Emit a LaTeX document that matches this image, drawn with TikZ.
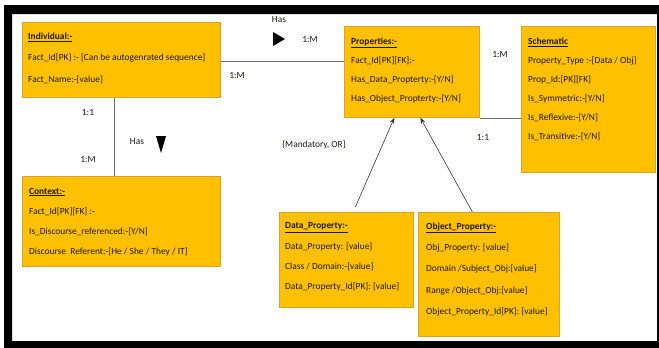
\documentclass[tikz,border=0pt]{standalone}
\usepackage{fontspec}
\setmainfont{Carlito}
\usetikzlibrary{arrows.meta}
\definecolor{boxfill}{HTML}{FFC000}
\definecolor{boxline}{HTML}{D4A52A}
\definecolor{txtc}{HTML}{1E1A10}
\definecolor{linec}{HTML}{6E6E6E}
\newcommand{\hdr}[1]{\textbf{\underline{#1}}}
\tikzset{
  ent/.style={draw=boxline, fill=boxfill, line width=0.7pt, anchor=north west, inner sep=0pt},
  txt/.style={anchor=north west, align=left, inner sep=0pt, text=txtc, font=\fontsize{9.4}{#1}\selectfont},
  lbl/.style={inner sep=0pt, text=txtc, font=\fontsize{9.4}{11}\selectfont},
  conn/.style={draw=linec, line width=0.6pt},
  arr/.style={draw=black!80, line width=0.6pt, -{Stealth[length=6pt,width=4.5pt]}},
  tri/.style={fill=black, draw=none},
  border/.style={fill=black, draw=none}
}
\begin{document}
\begin{tikzpicture}[x=1pt,y=-1pt]
\fill[white] (0,0) rectangle (659,348);
\path[border] (4,5) -- (659,5) -- (659,348) -- (4,348) -- cycle
  (12,14) -- (12,341) -- (657,341) -- (657,14) -- cycle;
\useasboundingbox (0,0) rectangle (659,348);

% boxes
\node[ent, minimum width=198pt, minimum height=75pt] (ind) at (22,22) {};
\node[ent, minimum width=135pt, minimum height=91pt] (prop) at (344,26) {};
\node[ent, minimum width=134pt, minimum height=146pt] (sch) at (521,26) {};
\node[ent, minimum width=198pt, minimum height=90pt] (ctx) at (22,176) {};
\node[ent, minimum width=134pt, minimum height=95pt] (dp) at (279,212) {};
\node[ent, minimum width=141pt, minimum height=124pt] (op) at (418,212) {};

% texts
\node[txt=21.5] (indt) at ([shift={(6,10.7)}]ind.north west)
 {\hdr{Individual:-}\\Fact\_Id[PK] :- [Can be autogenrated sequence]\\Fact\_Name:-[value]};
\node[txt=19] (propt) at ([shift={(7,11.7)}]prop.north west)
 {\hdr{Properties:-}\\Fact\_Id[PK][FK]:-\\Has\_Data\_Propterty:-[Y/N]\\Has\_Object\_Propterty:-[Y/N]};
\node[txt=19] (scht) at ([shift={(7,11.7)}]sch.north west)
 {\hdr{Schematic}\\Property\_Type :-[Data / Obj]\\Prop\_Id:[PK][FK]\\Is\_Symmetric:-[Y/N]\\Is\_Reflexive:-[Y/N]\\Is\_Transitive:-[Y/N]};
\node[txt=20.3] (ctxt) at ([shift={(7,11.7)}]ctx.north west)
 {\hdr{Context:-}\\Fact\_Id[PK][FK] :-\\Is\_Discourse\_referenced:-[Y/N]\\Discourse\ \ Referent:-[He / She / They / IT]};
\node[txt=20.3] (dpt) at ([shift={(6,10.7)}]dp.north west)
 {\hdr{Data\_Property:-}\\Data\_Property: [value]\\Class / Domain:-[value]\\Data\_Property\_Id[PK]: [value]};
\node[txt=21.2] (opt) at ([shift={(8,10.7)}]op.north west)
 {\hdr{Object\_Property:-}\\Obj\_Property: [value]\\Domain /Subject\_Obj:[value]\\Range /Object\_Obj:[value]\\Object\_Property\_Id[PK]: [value]};

% connectors
\draw[conn] ([yshift=-1.5]ind.east) -- ([yshift=-1.5]ind.east -| prop.west);
\draw[conn] ([xshift=-7]ind.south) -- ([xshift=-7]ind.south |- ctx.north);
\draw[conn] ([yshift=-19]sch.west) -- ([yshift=-19]sch.west -| prop.east);
\coordinate (dpa) at ([shift={(9,-5)}]dp.north);
\coordinate (opa) at ([shift={(-16.5,0)}]op.north);
\draw[arr] (dpa) -- ([xshift=-17.5]prop.south);
\draw[arr] (opa) -- ([xshift=8.5]prop.south);

% triangles
\fill[tri] (273,32) -- (273,46) -- (285,39) -- cycle;
\fill[tri] (156,136) -- (166,136) -- (161,153) -- cycle;

% labels
\node[lbl] (l1) at (279,20) {Has};
\node[lbl] (l2) at (310,40) {1:M};
\node[lbl] (l3) at (237,76) {1:M};
\node[lbl] (l4) at (88,113) {1:1};
\node[lbl] (l5) at (137,142) {Has};
\node[lbl] (l6) at (88,160) {1:M};
\node[lbl] (l7) at (314,145) {\{Mandatory, OR\}};
\node[lbl] (l8) at (500,55) {1:M};
\node[lbl] (l9) at (483,138) {1:1};
\end{tikzpicture}
\end{document}
